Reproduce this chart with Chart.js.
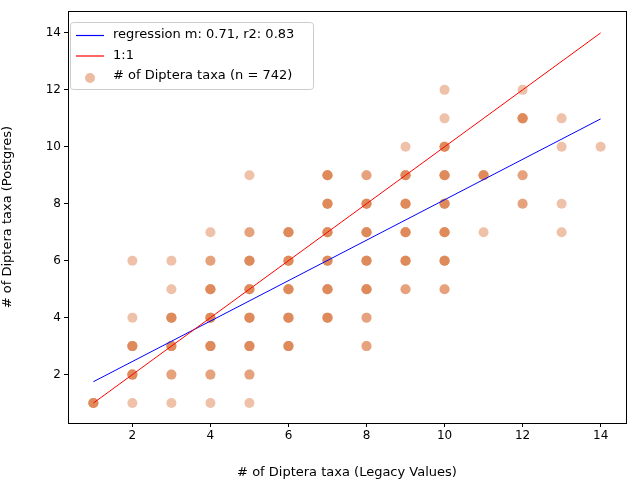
<!DOCTYPE html>
<html>
<head>
<meta charset="utf-8">
<script src="https://cdn.jsdelivr.net/npm/chart.js@4"></script>
<style>
  html, body { margin: 0; padding: 0; background: #fff; }
  #wrap { width: 640px; height: 480px; }
</style>
</head>
<body>
<div id="wrap"><canvas id="c" width="640" height="480"></canvas></div>
<script>
// ── Data ─────────────────────────────────────
const legacyX = [1, 2,2,2,2,2, 3,3,3,3,3,3, 4,4,4,4,4,4,4, 5,5,5,5,5,5,5,5,
  6,6,6,6,6, 7,7,7,7,7,7, 8,8,8,8,8,8,8, 9,9,9,9,9,9, 10,10,10,10,10,10,10,10,
  11,11, 12,12,12,12, 13,13,13,13, 14];
const postgresY = [1, 1,2,3,4,6, 1,2,3,4,5,6, 1,2,3,4,5,6,7, 1,2,3,4,5,6,7,9,
  3,4,5,6,7, 4,5,6,7,8,9, 3,4,5,6,7,8,9, 5,6,7,8,9,10, 5,6,7,8,9,10,11,12,
  7,9, 8,9,11,12, 7,8,10,11, 10];
// how many taxa overlap at each spot (drives darkness)
const overlap = [4, 1,4,4,1,1, 1,2,4,4,1,1, 1,2,4,4,4,2,1, 1,2,4,4,4,4,2,1,
  4,4,4,4,4, 4,4,4,4,4,4, 2,2,4,4,4,4,2, 2,4,4,4,4,1, 2,4,4,4,4,4,1,1,
  1,4, 2,2,4,1, 1,1,1,1, 1];
const lineX = [1, 14];
const slope = 0.71, intercept = 1.04;
const xTicks = [2, 4, 6, 8, 10, 12, 14];
const yTicks = [2, 4, 6, 8, 10, 12, 14];

const scatterPts = [];
legacyX.forEach((x, i) => {
  for (let k = 0; k < overlap[i]; k++) scatterPts.push({ x, y: postgresY[i] });
});

// ── Frame + legend drawn inside the plot (matplotlib style) ──
const innerLegend = {
  id: 'innerLegend',
  afterDraw(chart) {
    const { ctx, chartArea } = chart;
    ctx.save();
    ctx.strokeStyle = '#000'; ctx.lineWidth = 1;
    ctx.strokeRect(Math.round(chartArea.left) + 0.5, Math.round(chartArea.top) + 0.5,
      Math.round(chartArea.right - chartArea.left), Math.round(chartArea.bottom - chartArea.top));
    const items = [
      { label: 'regression m: 0.71, r2: 0.83', type: 'line', color: '#0000ff' },
      { label: '1:1', type: 'line', color: '#ff0000' },
      { label: '# of Diptera taxa (n = 742)', type: 'dot', color: 'rgba(221,132,82,0.55)' }
    ];
    const x0 = chartArea.left + 2, y0 = chartArea.top + 11, w = 243, h = 67, row = 20.5;
    ctx.fillStyle = 'rgba(255,255,255,0.8)';
    ctx.strokeStyle = '#cccccc';
    ctx.beginPath();
    ctx.roundRect(x0 + 0.5, y0 + 0.5, w, h, 3);
    ctx.fill(); ctx.stroke();
    ctx.font = '13px "DejaVu Sans"';
    ctx.textBaseline = 'middle';
    items.forEach((it, i) => {
      const cy = y0 + 13 + i * row;
      if (it.type === 'line') {
        ctx.strokeStyle = it.color; ctx.lineWidth = 1.2;
        ctx.beginPath(); ctx.moveTo(x0 + 6, cy + 0.5); ctx.lineTo(x0 + 34, cy + 0.5); ctx.stroke();
      } else {
        ctx.fillStyle = it.color;
        ctx.beginPath(); ctx.arc(x0 + 20, cy + 2, 5, 0, Math.PI * 2); ctx.fill();
      }
      ctx.fillStyle = '#000';
      ctx.fillText(it.label, x0 + 43, cy);
    });
    ctx.restore();
  }
};

const axisFont = { family: 'DejaVu Sans', size: 12 };
const gridOpts = { display: true, drawOnChartArea: false, drawTicks: true, tickLength: 4, tickColor: '#000' };

new Chart(document.getElementById('c'), {
  data: {
    datasets: [
      {
        type: 'scatter', data: scatterPts, order: 3,
        backgroundColor: 'rgba(221,132,82,0.5)', borderWidth: 0, pointRadius: 5
      },
      {
        type: 'line', order: 2, data: lineX.map(x => ({ x, y: slope * x + intercept })),
        borderColor: '#0000ff', borderWidth: 1, pointRadius: 0, fill: false
      },
      {
        type: 'line', order: 1, data: lineX.map(x => ({ x, y: x })),
        borderColor: '#ff0000', borderWidth: 1, pointRadius: 0, fill: false
      }
    ]
  },
  options: {
    responsive: false, animation: false,
    layout: { padding: { top: 11, right: 14, left: 0, bottom: 0 } },
    plugins: { legend: { display: false }, tooltip: { enabled: false } },
    scales: {
      x: {
        type: 'linear', min: 0.35, max: 14.65,
        afterBuildTicks: s => { s.ticks = xTicks.map(v => ({ value: v })); },
        afterFit: s => { s.height = 57; },
        grid: gridOpts,
        border: { color: '#000' },
        ticks: { color: '#000', font: axisFont, padding: 2 },
        title: { display: true, text: '# of Diptera taxa (Legacy Values)', color: '#000',
                 font: { family: 'DejaVu Sans', size: 13 }, padding: { top: 2, bottom: 0 } }
      },
      y: {
        type: 'linear', min: 0.3, max: 14.77,
        afterBuildTicks: s => { s.ticks = yTicks.map(v => ({ value: v })); },
        afterFit: s => { s.width = 68; },
        grid: gridOpts,
        border: { color: '#000' },
        ticks: { color: '#000', font: axisFont, padding: 3 },
        title: { display: true, text: '# of Diptera taxa (Postgres)', color: '#000',
                 font: { family: 'DejaVu Sans', size: 13 }, padding: { top: 0, bottom: 4 } }
      }
    }
  },
  plugins: [innerLegend]
});
</script>
</body>
</html>
